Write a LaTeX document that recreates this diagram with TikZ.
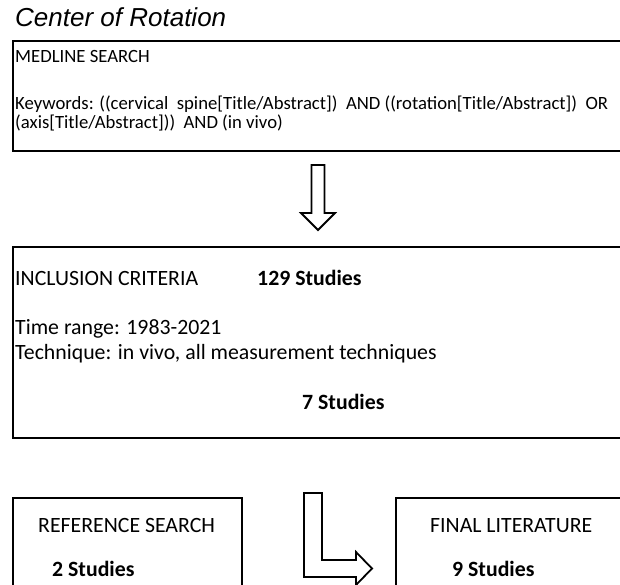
\documentclass[tikz,border=0pt]{standalone}
\usepackage{fontspec}
\setmainfont{Carlito}
\newfontfamily\headfont{Liberation Sans}
\usetikzlibrary{positioning}

\begin{document}
\begin{tikzpicture}[x=1pt, y=-1pt,
        box/.style={draw, line width=1.9pt, anchor=north west, inner sep=0pt},
        txt/.style={anchor=base west, inner sep=0pt, font=\fontsize{18.7}{22}\selectfont},
        bigtxt/.style={anchor=base west, inner sep=0pt, font=\fontsize{21.8}{26}\selectfont},
        hollow/.style={draw, line width=1.8pt, fill=white, line join=miter}]
    \useasboundingbox (0,0) rectangle (620,585);
    \clip (0,0) rectangle (620,585);

    \node[anchor=base west, inner sep=0pt, font=\headfont\itshape\fontsize{26}{30}\selectfont] (title) at (15,27) {Center of Rotation};

    % boxes (run off the page on the right and at the bottom)
    \node[box, minimum width=640pt, minimum height=110pt] (medline) at (12,40) {};
    \node[box, minimum width=640pt, minimum height=191pt] (incl) at (12,246) {};
    \node[box, minimum width=229pt, minimum height=120pt] (refs) at (12,497) {};
    \node[box, minimum width=260pt, minimum height=120pt] (final) at (395,497) {};

    \node[txt] (medtitle) at (15,63) {MEDLINE SEARCH};
    \node[txt] (kw1) at (15,110) {Keywords: ((cervical\ \ spine[Title/Abstract])\ \ AND ((rotation[Title/Abstract])\ \ OR};
    \node[txt] (kw2) at (15,129) {(axis[Title/Abstract]))\ \ AND (in vivo)};

    \node[bigtxt] (incltitle) at (15,285) {INCLUSION CRITERIA};
    \node[bigtxt, font=\fontsize{21.8}{26}\selectfont\bfseries] (n129) at (257,285) {129 Studies};
    \node[bigtxt] (range) at (15,334) {Time range: 1983-2021};
    \node[bigtxt] (tech) at (15,359) {Technique: in vivo, all measurement techniques};
    \node[bigtxt, font=\fontsize{21.8}{26}\selectfont\bfseries] (n7) at (302,409) {7 Studies};

    \node[bigtxt] (reftitle) at (38,532) {REFERENCE SEARCH};
    \node[bigtxt, font=\fontsize{21.8}{26}\selectfont\bfseries] (n2) at (52,576) {2 Studies};
    \node[bigtxt] (fintitle) at (430,532) {FINAL LITERATURE};
    \node[bigtxt, font=\fontsize{21.8}{26}\selectfont\bfseries] (n9) at (452,576) {9 Studies};

    % hollow arrows
    \coordinate (dn) at (318,165);
    \draw[hollow] (dn) ++(-6.5,0) -- ++(13,0) -- ++(0,48) -- ++(10.5,0) -- ++(-17,17) -- ++(-17,-17) -- ++(10.5,0) -- cycle;
    \coordinate (bend) at (304,493);
    \draw[hollow] (bend) -- ++(18,0) -- ++(0,67) -- ++(34,0) -- ++(0,-8) -- ++(16,16.5) -- ++(-16,16.5) -- ++(0,-8) -- ++(-52,0) -- cycle;
\end{tikzpicture}
\end{document}
